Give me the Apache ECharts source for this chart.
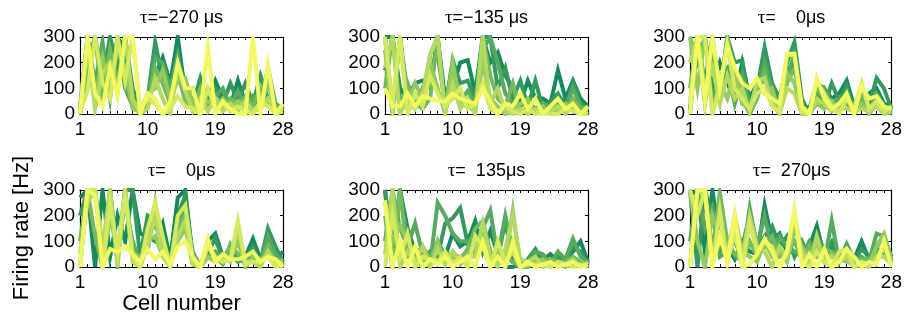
<!DOCTYPE html>
<html><head><meta charset="utf-8">
<script src="https://cdn.jsdelivr.net/npm/echarts@6/dist/echarts.min.js"></script>
<style>html,body{margin:0;padding:0;background:#fff}#c{width:905px;height:323px}</style>
</head><body><div id="c"></div>
<script>
const cells = Array.from({length: 28}, (_, i) => String(i + 1));
const titles = ['=\u2212270 \u03bcs', '=\u2212135 \u03bcs', '=    0\u03bcs', '=    0\u03bcs', '=  135\u03bcs', '=  270\u03bcs'];
const yTicks = [0, 100, 200, 300];

const panelA = [
  [10,300,50,240,100,300,250,60,0,40,150,220,120,300,80,100,40,60,130,60,30,130,40,20,60,150,30,10],
  [0,200,300,130,300,180,300,100,20,60,280,130,60,200,120,40,140,40,100,40,120,50,120,40,150,60,20,30],
  [20,300,120,280,60,290,100,30,10,50,220,200,100,230,60,60,30,80,70,100,30,90,20,70,40,180,40,20],
  [0,150,300,60,250,120,300,40,0,30,180,120,40,160,50,20,100,20,50,30,60,30,70,30,100,40,10,30],
  [30,300,60,220,80,260,180,20,10,80,100,170,60,130,140,40,20,50,30,60,20,50,30,20,30,120,20,10],
  [0,250,20,160,200,100,300,60,0,20,140,60,0,180,90,10,60,10,60,10,40,10,50,10,20,60,10,20],
  [10,90,300,120,60,300,130,300,20,60,40,0,20,70,30,20,0,100,20,40,10,30,10,0,50,30,0,10],
  [0,300,80,30,180,70,300,300,0,80,60,0,50,200,100,100,0,260,0,50,20,0,0,300,0,190,0,40]
];
const panelB = [
  [300,300,100,60,120,130,100,300,60,100,200,210,80,300,200,240,150,100,40,130,60,60,40,170,60,130,60,30],
  [170,300,60,40,80,50,230,300,20,210,120,130,60,300,300,100,180,60,130,30,130,20,50,80,30,120,40,20],
  [300,20,300,80,30,100,180,230,40,180,50,90,40,250,300,200,80,40,30,50,20,40,30,60,20,100,30,10],
  [100,300,0,120,40,20,60,300,10,150,80,40,20,300,150,60,30,120,0,30,10,0,20,40,10,60,20,30],
  [250,0,300,30,120,60,200,100,0,200,40,30,10,200,60,30,0,20,40,60,0,30,0,20,40,20,10,0],
  [180,300,0,60,20,80,230,300,0,120,20,60,0,300,40,100,10,0,20,0,20,0,10,30,0,40,0,10],
  [300,40,300,0,80,30,150,80,30,60,100,20,40,120,20,0,40,10,0,20,0,10,0,0,20,10,0,0],
  [100,30,30,80,30,70,60,50,50,80,60,50,40,100,50,0,40,30,80,20,60,0,30,60,20,40,0,30]
];
const panelC = [
  [0,300,300,100,200,120,60,200,60,120,200,100,40,160,200,40,20,120,100,60,80,130,30,60,80,100,40,30],
  [20,300,120,300,80,300,200,210,40,100,260,120,60,200,280,60,0,80,30,120,50,110,20,100,30,140,100,20],
  [300,200,300,60,150,180,40,150,30,80,200,90,20,150,230,30,10,60,100,40,60,60,40,50,20,80,30,10],
  [100,300,40,250,60,300,120,60,0,60,160,60,10,120,180,20,0,100,60,20,30,40,10,80,10,60,20,0],
  [300,100,300,20,120,60,170,40,20,120,80,100,0,160,120,10,0,40,20,50,10,80,0,40,0,40,10,20],
  [200,300,100,180,40,150,60,100,10,130,140,40,0,100,80,0,0,60,40,10,20,20,10,20,10,30,0,10],
  [50,300,300,0,100,270,100,60,20,80,100,30,10,230,230,10,0,130,80,30,0,60,20,120,20,50,10,30],
  [0,300,50,300,100,270,180,120,100,140,80,60,40,235,235,30,0,140,60,20,40,80,0,110,60,70,30,20]
];
const panelD = [
  [270,300,0,300,40,200,100,300,130,120,100,170,30,270,300,30,0,100,130,40,60,40,40,110,30,60,30,60],
  [200,300,300,40,300,20,300,300,40,200,180,120,0,200,280,40,0,60,110,30,80,30,20,80,20,150,80,20],
  [0,300,300,20,200,60,250,100,20,150,160,100,20,180,230,60,0,40,60,20,50,20,30,50,10,120,50,10],
  [100,300,120,0,300,30,300,50,40,60,250,60,0,150,200,20,0,80,40,10,90,50,10,30,20,80,20,30],
  [0,300,300,0,200,60,300,60,30,100,120,40,10,100,150,10,0,40,20,30,30,100,0,40,30,50,30,0],
  [50,250,300,80,300,0,300,20,0,80,200,40,0,120,180,10,0,100,20,40,20,150,20,20,0,60,10,20],
  [0,300,300,0,250,60,280,40,0,150,250,120,0,200,240,30,0,80,40,20,30,180,10,20,20,40,0,10],
  [0,300,280,0,70,60,80,50,20,70,30,60,10,80,100,40,0,110,20,50,30,30,40,60,20,40,30,0]
];
const panelE = [
  [300,0,300,150,60,40,20,100,40,130,80,100,180,60,140,50,0,0,10,20,40,30,50,20,30,60,100,20],
  [300,80,300,120,30,0,60,40,170,190,230,90,100,120,60,30,180,20,0,30,70,20,20,40,20,80,60,10],
  [100,300,150,80,170,50,10,250,200,130,100,100,50,150,220,40,200,60,10,20,60,50,10,60,30,110,40,20],
  [200,0,300,40,50,80,30,90,30,60,30,70,150,180,60,20,40,20,0,0,20,20,30,20,20,40,20,0],
  [250,100,160,100,20,30,0,100,20,40,10,40,100,100,20,60,20,220,0,10,20,30,0,20,0,20,10,10],
  [50,300,0,60,20,80,0,70,10,60,20,40,40,170,40,0,70,200,30,20,40,0,10,10,10,30,0,20],
  [0,200,40,130,0,40,30,20,60,10,40,0,120,80,0,100,20,60,0,10,10,10,0,20,10,0,10,0],
  [260,0,100,0,80,0,30,10,40,0,20,40,0,100,0,40,0,100,0,20,0,10,20,0,10,20,0,10]
];
const panelF = [
  [280,300,60,300,100,80,30,100,60,50,240,100,130,60,100,50,80,160,40,80,40,60,30,100,30,80,120,40],
  [300,0,300,200,60,100,40,80,200,60,120,160,80,120,40,100,30,130,60,100,30,40,20,70,40,60,80,20],
  [100,300,150,230,40,60,100,30,230,80,200,60,120,80,60,40,100,60,20,180,20,90,30,40,20,130,120,30],
  [0,300,300,60,290,100,50,20,100,40,80,120,40,60,100,30,80,40,70,60,40,70,20,30,30,60,50,20],
  [300,100,0,200,120,40,200,60,40,20,100,40,60,20,150,80,30,90,30,50,30,20,10,20,10,80,130,30],
  [0,300,280,40,100,60,180,40,200,80,60,0,80,40,200,60,0,120,20,40,20,40,0,10,0,40,40,10],
  [300,200,300,0,220,20,130,0,170,60,100,80,0,60,220,20,0,60,20,0,60,70,0,20,10,20,100,0],
  [0,300,300,0,120,20,200,0,10,50,110,60,0,60,220,0,50,0,70,0,20,70,40,0,20,10,100,0]
];
const panels = [panelA, panelB, panelC, panelD, panelE, panelF];

const lineColors = ['#148a5e','#33995e','#54aa5e','#73b95e','#94c95e','#b3d95e','#d4ea5e','#f2f95e'];

const FONT = 'Liberation Sans, Arial, Helvetica, sans-serif';
const lefts = [80, 385, 690];
const tops = [37, 190];
const W = 203, H = 77;

const grids = [], xAxes = [], yAxes = [], series = [], graphics = [];
const tickStyle = {show: true, inside: true, length: 3, lineStyle: {color: '#000', width: 1}};
const axisLineStyle = {show: true, onZero: false, lineStyle: {color: '#000', width: 1.2}};
for (let p = 0; p < 6; p++) {
  const r = Math.floor(p / 3), c = p % 3;
  grids.push({left: lefts[c], top: tops[r], width: W, height: H, containLabel: false});
  xAxes.push({type: 'category', gridIndex: p, data: cells, boundaryGap: false, position: 'bottom',
    axisLine: axisLineStyle, axisTick: Object.assign({interval: 0}, tickStyle),
    axisLabel: {interval: 8, color: '#000', fontSize: 19, fontFamily: FONT, margin: 6}, splitLine: {show: false}});
  xAxes.push({type: 'category', gridIndex: p, data: cells, boundaryGap: false, position: 'top',
    axisLine: axisLineStyle, axisTick: Object.assign({interval: 0}, tickStyle),
    axisLabel: {show: false}, splitLine: {show: false}});
  yAxes.push({type: 'value', gridIndex: p, min: yTicks[0], max: yTicks[yTicks.length - 1], interval: 100, position: 'left',
    axisLine: axisLineStyle, axisTick: tickStyle,
    axisLabel: {color: '#000', fontSize: 19, fontFamily: FONT, margin: 5}, splitLine: {show: false}});
  yAxes.push({type: 'value', gridIndex: p, min: yTicks[0], max: yTicks[yTicks.length - 1], interval: 100, position: 'right',
    axisLine: axisLineStyle, axisTick: tickStyle, axisLabel: {show: false}, splitLine: {show: false}});
  panels[p].forEach((vals, k) => {
    series.push({type: 'line', xAxisIndex: 2 * p, yAxisIndex: 2 * p, data: vals, showSymbol: false, symbol: 'none',
      clip: true, silent: true, animation: false,
      lineStyle: {color: lineColors[k], width: 4, join: 'miter'}});
  });
  graphics.push({type: 'text', x: lefts[c] + W / 2, y: r === 0 ? 18 : 171,
    style: {text: '{a|\u03c4}{b|' + titles[p] + '}', align: 'center', verticalAlign: 'middle',
      rich: {a: {fontFamily: 'Liberation Serif, serif', fontSize: 19, fill: '#000'},
             b: {fontFamily: FONT, fontSize: 18, fill: '#000'}}}});
}
graphics.push({type: 'text', x: lefts[0] + W / 2, y: 304,
  style: {text: 'Cell number', font: '22px ' + FONT, fill: '#000', align: 'center', verticalAlign: 'middle'}});
graphics.push({type: 'text', x: 22, y: 228, rotation: Math.PI / 2,
  style: {text: 'Firing rate [Hz]', font: '22px ' + FONT, fill: '#000', align: 'center', verticalAlign: 'middle'}});

const chart = echarts.init(document.getElementById('c'), null, {renderer: 'canvas'});
chart.setOption({animation: false, grid: grids, xAxis: xAxes, yAxis: yAxes, series: series, graphic: graphics});
</script></body></html>
